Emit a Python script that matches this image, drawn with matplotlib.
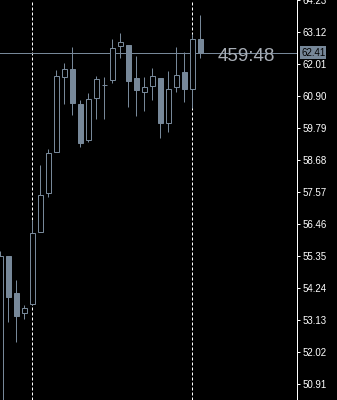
import matplotlib
matplotlib.use("Agg")
import matplotlib.pyplot as plt
from matplotlib.patches import Rectangle
from matplotlib.transforms import blended_transform_factory

# ---- data ----
opens  = [49.60, 55.35, 54.08, 53.39, 53.71, 56.19, 57.54, 58.96, 61.56, 61.83,
          60.62, 59.39, 60.83, 61.30, 61.45, 62.63, 62.66, 61.53, 61.04, 61.24,
          61.51, 59.97, 61.22, 61.73, 61.13, 62.89]
highs  = [55.53, 55.35, 54.52, 53.66, 56.60, 58.50, 59.05, 61.82, 62.05, 62.60,
          60.75, 61.01, 61.59, 61.56, 62.89, 63.10, 62.66, 62.29, 61.56, 61.87,
          61.51, 61.76, 62.60, 62.43, 63.06, 63.70]
lows   = [49.40, 53.08, 52.39, 53.16, 53.67, 56.19, 57.41, 58.96, 60.64, 60.23,
          59.14, 59.31, 60.12, 60.10, 61.35, 62.23, 60.52, 60.21, 60.37, 60.75,
          59.46, 59.66, 61.04, 60.70, 60.47, 62.23]
closes = [55.35, 53.94, 53.27, 53.55, 56.17, 57.46, 58.91, 61.59, 61.85, 60.66,
          59.28, 60.79, 61.48, 61.30, 62.58, 62.76, 61.42, 61.10, 61.22, 61.60,
          59.97, 61.16, 61.64, 61.14, 62.89, 62.41]
tick_values = [50.91, 52.02, 53.13, 54.24, 55.35, 56.46, 57.57, 58.68,
               59.79, 60.90, 62.01, 63.12, 64.23]
tick_labels = ["50.91", "52.02", "53.13", "54.24", "55.35", "56.46", "57.57",
               "58.68", "59.79", "60.90", "62.01", "63.12", "64.23"]
separators = [4, 24]
current_price = 62.41
current_label = "62.41"
timer_text = "459:48"

# ---- style ----
CANDLE = "#778899"
BG = "black"
PX = 0.72  # one pixel in points at dpi 100

fig = plt.figure(figsize=(3.37, 4.00), dpi=100, facecolor=BG)
ax = fig.add_axes([0, 0, 297 / 337, 1])
ax.set_facecolor(BG)
ax.set_xlim(-0.0375, 37.09)
ax.set_ylim(50.366, 64.23)

for s in ("left", "top", "bottom"):
    ax.spines[s].set_visible(False)
ax.spines["right"].set_color("white")
ax.spines["right"].set_linewidth(PX)

ax.set_xticks([])
ax.yaxis.tick_right()
ax.set_yticks(tick_values)
ax.set_yticklabels(tick_labels)
ax.tick_params(axis="y", colors="white", length=3 * PX, width=PX, pad=1.5,
               labelsize=7)
for lab in ax.get_yticklabels():
    lab.set_family("Liberation Sans")

# separators
for x in separators:
    ax.axvline(x, color="white", lw=PX, dashes=(3, 2), zorder=1)

# current price line
ax.axhline(current_price, color=CANDLE, lw=PX, zorder=1.5)

# candles
w = 0.6
for i, (o, h, l, c) in enumerate(zip(opens, highs, lows, closes)):
    ax.vlines(i, l, h, color=CANDLE, lw=PX, zorder=2)
    bottom = min(o, c)
    height = abs(c - o)
    fc = BG if c >= o else CANDLE
    ax.add_patch(Rectangle((i - w / 2, bottom), w, height, facecolor=fc,
                           edgecolor=CANDLE, lw=PX, zorder=3))

# price label box
trans = blended_transform_factory(ax.transAxes, ax.transData)
ax.annotate(current_label, xy=(1, current_price), xycoords=trans,
            xytext=(4, 0), textcoords="offset pixels", ha="left", va="center",
            fontsize=7, family="Liberation Sans", color="black",
            bbox=dict(boxstyle="square,pad=0.12", fc=CANDLE, ec="none"),
            annotation_clip=False, zorder=5)

# timer text
ax.text(27.2, 62.28, timer_text, ha="left", va="center", fontsize=13.5,
        family="Liberation Sans", color="#a8aeb6", zorder=5)

fig.savefig("out.png", dpi=100, facecolor=BG)
